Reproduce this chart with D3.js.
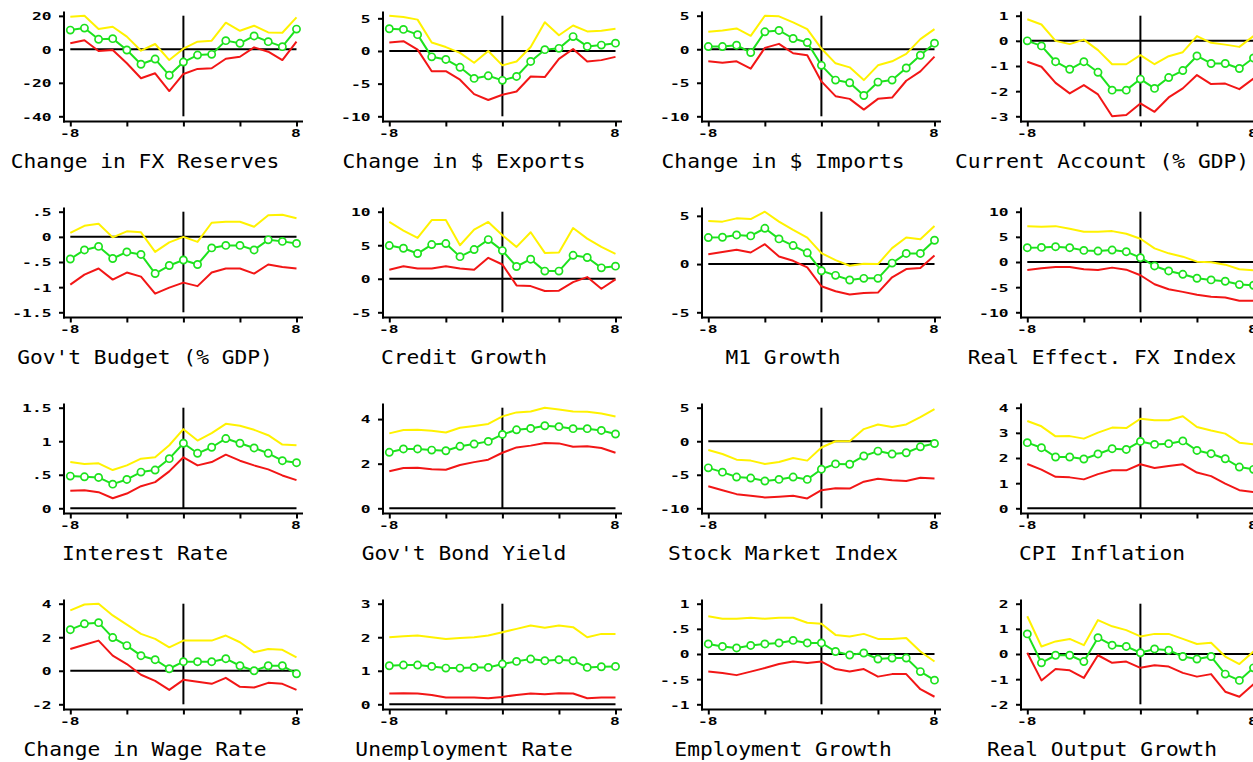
<!DOCTYPE html>
<html>
<head>
<meta charset="utf-8">
<script src="https://cdn.jsdelivr.net/npm/d3@7"></script>
<style>
  html, body { margin: 0; padding: 0; background: #fff; }
  svg { display: block; }
</style>
</head>
<body>
<svg id="chart" width="1253" height="762"></svg>
<script>
// Event-window quarters relative to the crisis date
const quarters = [-8, -7, -6, -5, -4, -3, -2, -1, 0, 1, 2, 3, 4, 5, 6, 7, 8];
const xTickValues = [-8, -4, 0, 4, 8];
const xTickLabels = ["-8", "", "", "", "8"];

const titles = [
  "Change in FX Reserves", "Change in $ Exports", "Change in $ Imports", "Current Account (% GDP)",
  "Gov't Budget (% GDP)", "Credit Growth", "M1 Growth", "Real Effect. FX Index",
  "Interest Rate", "Gov't Bond Yield", "Stock Market Index", "CPI Inflation",
  "Change in Wage Rate", "Unemployment Rate", "Employment Growth", "Real Output Growth"
];

const yTicks = [
  [-40, -20, 0, 20], [-10, -5, 0, 5], [-10, -5, 0, 5], [-3, -2, -1, 0, 1],
  [-1.5, -1, -0.5, 0, 0.5], [-5, 0, 5, 10], [-5, 0, 5], [-10, -5, 0, 5, 10],
  [0, 0.5, 1, 1.5], [0, 2, 4], [-10, -5, 0, 5], [0, 1, 2, 3, 4],
  [-2, 0, 2, 4], [0, 1, 2, 3], [-1, -0.5, 0, 0.5, 1], [-2, -1, 0, 1, 2]
];
const yTickLabels = [
  ["-40", "-20", "0", "20"], ["-10", "-5", "0", "5"], ["-10", "-5", "0", "5"], ["-3", "-2", "-1", "0", "1"],
  ["-1.5", "-1", "-.5", "0", ".5"], ["-5", "0", "5", "10"], ["-5", "0", "5"], ["-10", "-5", "0", "5", "10"],
  ["0", ".5", "1", "1.5"], ["0", "2", "4"], ["-10", "-5", "0", "5"], ["0", "1", "2", "3", "4"],
  ["-2", "0", "2", "4"], ["0", "1", "2", "3"], ["-1", "-.5", "0", ".5", "1"], ["-2", "-1", "0", "1", "2"]
];

// Upper confidence band
const upperBand = [
  [19.5, 20.1, 12.1, 13.5, 7.6, -0.8, 3.2, -6.4, 0.4, 4.6, 5.2, 15.9, 11.1, 14.1, 10.1, 9.9, 19.1],
  [5.4, 5.2, 4.8, 1.3, 0.6, -0.3, -1.8, 0.0, -2.2, -1.6, 0.6, 4.4, 2.4, 3.9, 3.0, 3.1, 3.4],
  [2.6, 2.8, 3.1, 2.0, 5.0, 4.9, 4.0, 3.0, 0.1, -2.1, -2.7, -4.6, -2.4, -1.8, -0.7, 1.5, 3.0],
  [0.86, 0.65, 0.0, -0.13, 0.05, -0.37, -0.93, -0.93, -0.57, -0.93, -0.61, -0.45, 0.19, -0.08, -0.15, -0.24, 0.19],
  [0.08, 0.22, 0.26, -0.01, 0.11, 0.09, -0.30, -0.11, 0.0, -0.10, 0.28, 0.30, 0.30, 0.20, 0.43, 0.44, 0.37],
  [8.47, 7.18, 6.09, 8.76, 8.76, 5.0, 7.33, 8.47, 6.49, 4.75, 6.93, 3.86, 3.91, 7.57, 5.99, 4.75, 3.71],
  [4.47, 4.4, 4.74, 4.67, 5.43, 4.4, 3.54, 2.75, 1.13, 0.41, -0.17, 0.03, 0.0, 1.65, 2.75, 2.58, 3.95],
  [7.13, 7.0, 7.13, 6.6, 6.0, 6.0, 6.14, 5.61, 4.62, 2.71, 1.72, 1.06, 0.07, -0.07, -0.53, -1.45, -1.65],
  [0.69, 0.66, 0.67, 0.57, 0.64, 0.74, 0.76, 0.94, 1.18, 1.01, 1.12, 1.26, 1.23, 1.17, 1.09, 0.95, 0.94],
  [3.36, 3.51, 3.52, 3.48, 3.4, 3.61, 3.69, 3.78, 4.12, 4.3, 4.34, 4.51, 4.43, 4.34, 4.33, 4.25, 4.12],
  [-1.32, -1.91, -2.75, -2.89, -3.38, -3.09, -2.5, -2.89, -0.93, 0.0, 0.0, 1.81, 2.5, 2.11, 2.5, 3.58, 4.8],
  [3.47, 3.26, 2.86, 2.87, 2.77, 3.01, 3.21, 3.19, 3.56, 3.5, 3.5, 3.66, 3.23, 3.09, 2.97, 2.61, 2.54],
  [3.6, 3.95, 4.0, 3.3, 2.75, 2.2, 1.9, 1.4, 1.8, 1.8, 1.8, 2.1, 1.7, 1.1, 1.3, 1.25, 0.8],
  [2.0, 2.03, 2.05, 2.0, 1.95, 1.98, 2.0, 2.05, 2.15, 2.25, 2.35, 2.28, 2.35, 2.3, 2.0, 2.1, 2.1],
  [0.75, 0.7, 0.7, 0.72, 0.7, 0.72, 0.72, 0.62, 0.6, 0.38, 0.35, 0.4, 0.3, 0.3, 0.32, 0.05, -0.15],
  [1.5, 0.3, 0.5, 0.6, 0.35, 1.35, 1.1, 0.95, 0.7, 0.8, 0.8, 0.6, 0.4, 0.45, -0.1, -0.4, 0.1]
];

// Point estimate
const pointEstimate = [
  [11.5, 12.7, 6.0, 6.4, -0.4, -8.9, -5.8, -15.5, -7.6, -3.4, -3.0, 5.2, 3.6, 8.0, 4.6, 1.6, 12.1],
  [3.4, 3.3, 2.5, -0.9, -1.3, -2.5, -4.2, -3.8, -4.5, -3.9, -1.6, 0.2, 0.4, 2.2, 0.7, 0.9, 1.2],
  [0.4, 0.4, 0.6, -0.5, 2.6, 2.8, 1.6, 1.0, -2.4, -4.6, -5.0, -6.9, -4.9, -4.6, -2.8, -0.9, 0.9],
  [0.0, -0.2, -0.83, -1.13, -0.83, -1.25, -1.96, -1.96, -1.52, -1.89, -1.46, -1.18, -0.6, -0.9, -0.9, -1.1, -0.68],
  [-0.44, -0.26, -0.19, -0.43, -0.30, -0.35, -0.73, -0.57, -0.46, -0.55, -0.22, -0.17, -0.17, -0.26, -0.06, -0.09, -0.13],
  [4.95, 4.55, 3.76, 5.1, 5.25, 3.3, 4.36, 5.84, 4.2, 1.83, 2.92, 1.14, 1.14, 3.5, 3.17, 1.63, 1.88],
  [2.75, 2.78, 3.02, 2.92, 3.71, 2.61, 1.92, 1.17, -0.69, -1.17, -1.65, -1.48, -1.48, 0.1, 1.1, 1.1, 2.47],
  [2.84, 2.9, 3.04, 2.84, 2.31, 2.18, 2.38, 2.05, 0.86, -0.79, -1.78, -2.44, -3.23, -3.56, -3.83, -4.49, -4.62],
  [0.48, 0.47, 0.46, 0.36, 0.43, 0.54, 0.57, 0.74, 0.97, 0.82, 0.91, 1.04, 0.97, 0.9, 0.82, 0.71, 0.68],
  [2.51, 2.66, 2.66, 2.61, 2.58, 2.78, 2.88, 3.0, 3.31, 3.52, 3.58, 3.7, 3.66, 3.57, 3.57, 3.49, 3.33],
  [-3.97, -4.61, -5.34, -5.49, -5.93, -5.69, -5.34, -5.69, -4.17, -3.38, -3.43, -2.2, -1.47, -1.91, -1.72, -0.83, -0.34],
  [2.61, 2.41, 2.04, 2.04, 1.96, 2.16, 2.37, 2.34, 2.66, 2.54, 2.57, 2.68, 2.3, 2.17, 1.97, 1.64, 1.55],
  [2.45, 2.8, 2.87, 1.98, 1.5, 0.9, 0.66, 0.12, 0.54, 0.54, 0.54, 0.72, 0.3, 0.0, 0.3, 0.3, -0.18],
  [1.15, 1.17, 1.17, 1.13, 1.08, 1.08, 1.1, 1.1, 1.2, 1.28, 1.35, 1.3, 1.33, 1.3, 1.1, 1.12, 1.13],
  [0.2, 0.15, 0.12, 0.17, 0.2, 0.22, 0.27, 0.22, 0.22, 0.05, -0.02, 0.02, -0.1, -0.08, -0.08, -0.35, -0.52],
  [0.8, -0.35, -0.05, -0.05, -0.3, 0.65, 0.35, 0.3, 0.05, 0.2, 0.15, -0.1, -0.2, -0.1, -0.8, -1.05, -0.55]
];

// Lower confidence band
const lowerBand = [
  [3.6, 5.4, -1.0, -0.4, -8.3, -17.3, -14.3, -24.9, -14.7, -11.7, -11.3, -5.6, -4.4, 1.2, -1.4, -6.4, 4.6],
  [1.3, 1.5, 0.2, -3.1, -3.1, -4.4, -6.6, -7.5, -6.7, -6.2, -3.9, -4.0, -1.2, 0.3, -1.6, -1.4, -0.9],
  [-1.8, -2.0, -1.8, -2.9, 0.2, 0.8, -0.6, -0.9, -4.8, -7.0, -7.4, -9.0, -7.4, -7.2, -4.7, -3.3, -1.1],
  [-0.83, -1.03, -1.67, -2.09, -1.76, -2.13, -3.0, -2.95, -2.49, -2.82, -2.25, -1.89, -1.36, -1.72, -1.7, -1.92, -1.5],
  [-0.95, -0.75, -0.63, -0.85, -0.71, -0.79, -1.13, -1.01, -0.91, -0.98, -0.71, -0.63, -0.63, -0.73, -0.55, -0.60, -0.63],
  [1.34, 1.88, 1.53, 1.53, 1.88, 1.53, 1.34, 3.12, 2.13, -0.99, -1.09, -1.83, -1.78, -0.5, 0.25, -1.49, -0.1],
  [1.03, 1.24, 1.48, 1.2, 2.06, 0.79, 0.34, -0.34, -2.3, -2.82, -3.16, -2.99, -2.96, -1.37, -0.52, -0.41, 0.89],
  [-1.58, -1.25, -0.99, -0.99, -1.45, -1.58, -1.12, -1.52, -2.64, -4.42, -5.41, -5.94, -6.53, -6.93, -7.06, -7.72, -7.72],
  [0.26, 0.27, 0.24, 0.15, 0.22, 0.33, 0.39, 0.55, 0.76, 0.64, 0.69, 0.8, 0.71, 0.64, 0.58, 0.49, 0.42],
  [1.66, 1.81, 1.82, 1.75, 1.73, 1.94, 2.07, 2.18, 2.49, 2.73, 2.81, 2.93, 2.91, 2.76, 2.78, 2.7, 2.49],
  [-6.72, -7.3, -7.89, -8.14, -8.38, -8.28, -8.14, -8.53, -7.3, -7.01, -7.06, -6.03, -5.59, -5.83, -5.93, -5.44, -5.54],
  [1.76, 1.54, 1.25, 1.23, 1.15, 1.36, 1.51, 1.51, 1.75, 1.6, 1.68, 1.75, 1.42, 1.28, 0.98, 0.72, 0.65],
  [1.3, 1.55, 1.8, 0.9, 0.4, -0.24, -0.6, -1.14, -0.54, -0.66, -0.78, -0.42, -0.96, -1.0, -0.72, -0.78, -1.14],
  [0.32, 0.33, 0.32, 0.28, 0.2, 0.2, 0.2, 0.18, 0.22, 0.28, 0.32, 0.3, 0.33, 0.32, 0.18, 0.2, 0.2],
  [-0.35, -0.38, -0.42, -0.35, -0.28, -0.2, -0.15, -0.18, -0.15, -0.3, -0.35, -0.3, -0.45, -0.4, -0.4, -0.7, -0.85],
  [0.05, -1.05, -0.6, -0.65, -0.95, -0.05, -0.35, -0.3, -0.55, -0.45, -0.5, -0.75, -0.9, -0.8, -1.5, -1.7, -1.2]
];

const COLORS = { upper: "#fff200", mid: "#1de21d", lower: "#f21616", ink: "#000" };
const MONO = "'DejaVu Sans Mono', 'Liberation Mono', monospace";
const TICK_STRETCH = 1.55;

const svg = d3.select("#chart");
const colStep = 319, rowStep = 196;

titles.forEach((title, i) => {
  const col = i % 4, row = Math.floor(i / 4);
  const ox = 64 + col * colStep;      // y-axis position
  const oy = 121.5 + row * rowStep;   // x-axis position

  const x = d3.scaleLinear().domain([-8, 8]).range([ox + 6.3, ox + 232.5]);
  const [lo, hi] = d3.extent(yTicks[i].concat(upperBand[i], pointEstimate[i], lowerBand[i]));
  const y = d3.scaleLinear().domain([lo, hi]).range([oy - 5.2, oy - 105.8]);

  const g = svg.append("g").attr("class", "panel");

  // Axis frame lines
  g.append("line")
    .attr("x1", ox).attr("x2", ox)
    .attr("y1", oy + 1).attr("y2", y(hi) - 4.2)
    .attr("stroke", COLORS.ink).attr("stroke-width", 2);
  g.append("line")
    .attr("x1", ox - 1).attr("x2", x(8) + 6.5)
    .attr("y1", oy).attr("y2", oy)
    .attr("stroke", COLORS.ink).attr("stroke-width", 2);

  // Y axis ticks and labels
  const yAxis = d3.axisLeft(y)
    .tickValues(yTicks[i])
    .tickSize(5)
    .tickFormat(d => yTickLabels[i][yTicks[i].indexOf(d)]);
  const yg = g.append("g").attr("transform", `translate(${ox},0)`).call(yAxis);
  yg.select(".domain").remove();
  yg.selectAll(".tick line").attr("stroke", COLORS.ink).attr("stroke-width", 2);
  yg.selectAll(".tick text")
    .attr("x", null).attr("dy", null)
    .attr("transform", `translate(-12.5,3.9) scale(${TICK_STRETCH},1)`)
    .attr("fill", COLORS.ink)
    .style("font-family", MONO).style("font-size", "10.5px").style("font-weight", "bold");

  // X axis ticks and end labels
  const xAxis = d3.axisBottom(x)
    .tickValues(xTickValues)
    .tickSize(5)
    .tickFormat(d => xTickLabels[xTickValues.indexOf(d)]);
  const xg = g.append("g").attr("transform", `translate(0,${oy})`).call(xAxis);
  xg.select(".domain").remove();
  xg.selectAll(".tick line").attr("stroke", COLORS.ink).attr("stroke-width", 2);
  xg.selectAll(".tick text")
    .attr("y", null).attr("dy", null)
    .attr("transform", `translate(-1,15) scale(${TICK_STRETCH},1)`)
    .attr("fill", COLORS.ink)
    .style("font-family", MONO).style("font-size", "10.5px").style("font-weight", "bold");

  // Reference lines: zero and crisis quarter
  g.append("line")
    .attr("x1", x(-8)).attr("x2", x(8))
    .attr("y1", y(0)).attr("y2", y(0))
    .attr("stroke", COLORS.ink).attr("stroke-width", 2);
  g.append("line")
    .attr("x1", x(0)).attr("x2", x(0))
    .attr("y1", y(lo)).attr("y2", y(hi))
    .attr("stroke", COLORS.ink).attr("stroke-width", 2);

  const line = d3.line().x((d, k) => x(quarters[k])).y(d => y(d));

  g.append("path").datum(lowerBand[i])
    .attr("d", line).attr("fill", "none")
    .attr("stroke", COLORS.lower).attr("stroke-width", 2).attr("stroke-linejoin", "round");
  g.append("path").datum(upperBand[i])
    .attr("d", line).attr("fill", "none")
    .attr("stroke", COLORS.upper).attr("stroke-width", 2).attr("stroke-linejoin", "round");
  g.append("path").datum(pointEstimate[i])
    .attr("d", line).attr("fill", "none")
    .attr("stroke", COLORS.mid).attr("stroke-width", 2).attr("stroke-linejoin", "round");

  g.selectAll("circle.pt").data(pointEstimate[i]).enter()
    .append("circle").attr("class", "pt")
    .attr("cx", (d, k) => x(quarters[k]))
    .attr("cy", d => y(d))
    .attr("r", 3.6)
    .attr("fill", "#fff")
    .attr("stroke", COLORS.mid).attr("stroke-width", 1.7);

  // Panel title
  g.append("text")
    .attr("transform", `translate(${ox + 81},${oy + 46.5}) scale(1.09,1)`)
    .attr("text-anchor", "middle")
    .attr("fill", COLORS.ink)
    .style("font-family", MONO).style("font-size", "19.5px")
    .text(title);
});
</script>
</body>
</html>
